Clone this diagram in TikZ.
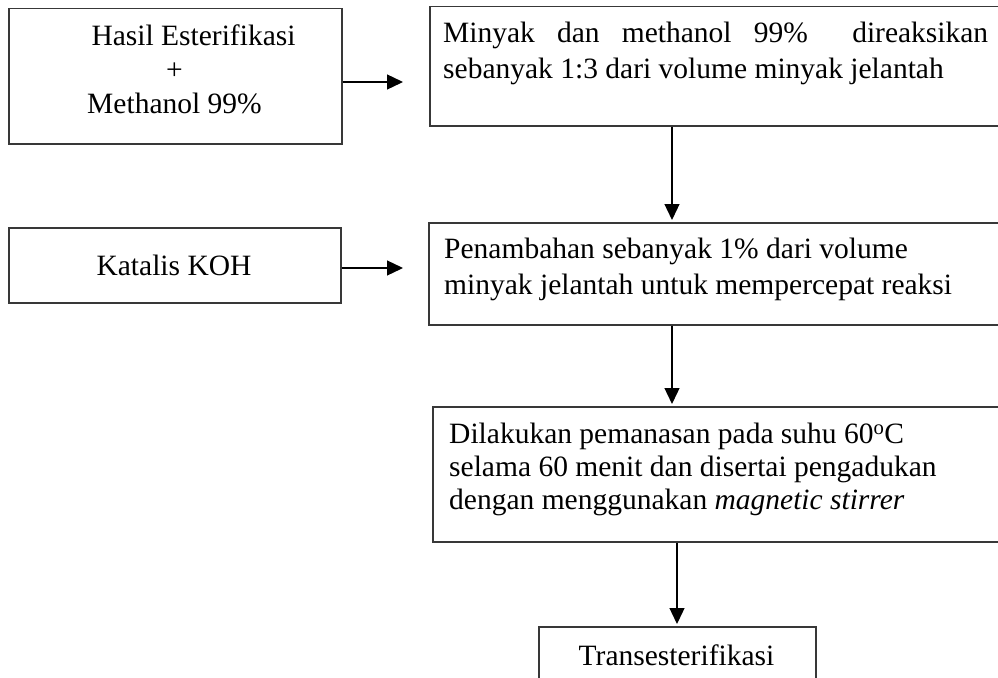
\documentclass[tikz,border=0pt]{standalone}
\usepackage{fontspec}
\setmainfont{Liberation Serif}
\usetikzlibrary{arrows.meta}
\begin{document}
\begin{tikzpicture}[x=1pt,y=-1pt,
  stepbox/.style={draw=black!78, line width=1.5pt, inner sep=0pt, anchor=north west},
  txt/.style={inner sep=0pt, font=\fontsize{29.5}{34}\selectfont},
  wide/.style={txt, font=\fontsize{29.5}{36}\selectfont},
  flow/.style={line width=1.3pt, -{Triangle[length=16pt,width=15pt]}}]
\useasboundingbox (0,0) rectangle (998,677);
\clip (0,0) rectangle (998,677);
\fill[white] (0,0) rectangle (998,677);

% inputs on the left
\node[stepbox, minimum width=333pt, minimum height=135pt] (hasil) at (8,8) {};
\node[stepbox, minimum width=332pt, minimum height=75pt] (koh) at (8,227) {};

% process steps (running off the page edge)
\node[stepbox, minimum width=581pt, minimum height=119pt] (mix) at (429,6) {};
\node[stepbox, minimum width=582pt, minimum height=102pt] (add) at (428,222) {};
\node[stepbox, minimum width=578pt, minimum height=135pt] (heat) at (432,406) {};
\node[stepbox, minimum width=277pt, minimum height=70pt] (trans) at (538,626) {};

% texts (a 24pt strut fixes the first baseline)
\node[txt, anchor=north, align=center] (hasiltxt) at (174.5,21)
  {\rule{0pt}{24pt}\hspace*{38pt}Hasil Esterifikasi\\+\\Methanol 99\%};
\node[txt, anchor=north] (kohtxt) at (174,251) {\rule{0pt}{24pt}Katalis KOH};
\node[wide, anchor=north west, text width=545pt, align=justify] (mixtxt) at (443,18)
  {\rule{0pt}{24pt}Minyak dan methanol 99\%\ \ direaksikan\linebreak
   sebanyak 1:3 dari volume minyak jelantah};
\node[wide, anchor=north west, align=left] (addtxt) at (444,234)
  {\rule{0pt}{24pt}Penambahan sebanyak 1\% dari volume\\minyak jelantah untuk mempercepat reaksi};
\node[txt, anchor=north west, align=left, font=\fontsize{29.5}{33}\selectfont] (heattxt) at (449,419)
  {\rule{0pt}{24pt}Dilakukan pemanasan pada suhu 60\textsuperscript{o}C\\selama 60 menit dan disertai pengadukan\\dengan menggunakan \textit{magnetic stirrer}};
\node[txt, anchor=north] (transtxt) at (676.5,641) {\rule{0pt}{24pt}Transesterifikasi};

% arrow guides
\coordinate (ay1) at (0,82);
\coordinate (ay2) at (0,268);
\coordinate (ax1) at (672,0);
\coordinate (ax2) at (677,0);

% connectors
\draw[flow, shorten >=26pt] (hasil.east |- ay1) -- (mix.west |- ay1);
\draw[flow, shorten >=25pt] (koh.east |- ay2) -- (add.west |- ay2);
\draw[flow, shorten >=2pt] (mix.south -| ax1) -- (add.north -| ax1);
\draw[flow, shorten >=2pt] (add.south -| ax1) -- (heat.north -| ax1);
\draw[flow, shorten >=2pt] (heat.south -| ax2) -- (trans.north -| ax2);
\end{tikzpicture}
\end{document}
